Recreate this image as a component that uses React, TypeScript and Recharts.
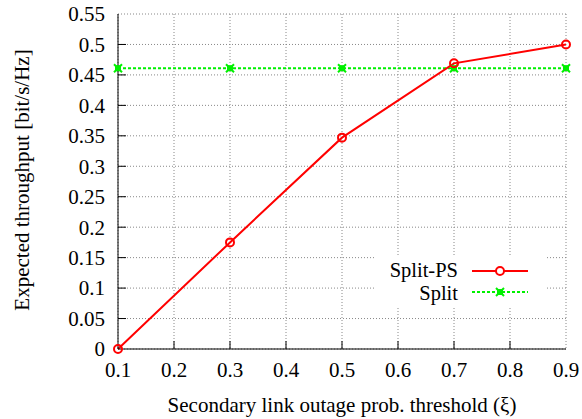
import React from 'react';
import { LineChart, Line, XAxis, YAxis, CartesianGrid } from 'recharts';

const xValues = [0.1, 0.3, 0.5, 0.7, 0.9];
const splitPS = [0, 0.175, 0.347, 0.469, 0.5];
const split = [0.461, 0.461, 0.461, 0.461, 0.461];
const xTicks = [0.1, 0.2, 0.3, 0.4, 0.5, 0.6, 0.7, 0.8, 0.9];
const yTicks = [0, 0.05, 0.1, 0.15, 0.2, 0.25, 0.3, 0.35, 0.4, 0.45, 0.5, 0.55];
const seriesNames = ['Split-PS', 'Split'];

const data = xValues.map((x, i) => ({ x, ps: splitPS[i], split: split[i] }));

const FONT = '"Liberation Serif", "Times New Roman", serif';
const FS = 21;
const RED = '#ff0000';
const GREEN = '#00f000';

const fmt = (v: number) => String(Number(v.toFixed(2)));

const renderLeftTick = (props: any) => {
  const { x, y, payload } = props;
  const ax = x + 13;
  const isEdge = payload.value === 0 || payload.value === 0.55;
  return (
    <g key={`l-${payload.value}`}>
      {!isEdge && <line x1={ax} x2={ax + 8} y1={y} y2={y} stroke="#000" strokeWidth={1} />}
      <text x={x} y={y} dy="0.35em" textAnchor="end" style={{ fontFamily: FONT, fontSize: FS }} fill="#000">
        {fmt(payload.value)}
      </text>
    </g>
  );
};

const renderRightTick = (props: any) => {
  const { x, y, payload } = props;
  const isEdge = payload.value === 0 || payload.value === 0.55;
  if (isEdge) return <g key={`r-${payload.value}`} />;
  return <line key={`r-${payload.value}`} x1={x} x2={x - 8} y1={y} y2={y} stroke="#000" strokeWidth={1} />;
};

const renderBottomTick = (props: any) => {
  const { x, y, payload } = props;
  const isEdge = payload.value === 0.1 || payload.value === 0.9;
  return (
    <g key={`b-${payload.value}`}>
      {!isEdge && <line x1={x} x2={x} y1={y} y2={y - 8} stroke="#000" strokeWidth={1} />}
      <text x={x} y={y + 28} textAnchor="middle" style={{ fontFamily: FONT, fontSize: FS }} fill="#000">
        {fmt(payload.value)}
      </text>
    </g>
  );
};

const renderTopTick = (props: any) => {
  const { x, y, payload } = props;
  const isEdge = payload.value === 0.1 || payload.value === 0.9;
  if (isEdge) return <g key={`t-${payload.value}`} />;
  return <line key={`t-${payload.value}`} x1={x} x2={x} y1={y} y2={y + 8} stroke="#000" strokeWidth={1} />;
};

const CircleDot = (props: any) => {
  const { cx, cy } = props;
  if (cx == null || cy == null) return <g />;
  return <circle key={`c-${cx}`} cx={cx} cy={cy} r={4} fill="none" stroke={RED} strokeWidth={2} />;
};

const StarDot = (props: any) => {
  const { cx, cy } = props;
  if (cx == null || cy == null) return <g />;
  return (
    <g key={`s-${cx}`}>
      <rect x={cx - 3} y={cy - 3} width={6} height={6} fill={GREEN} />
      <line x1={cx - 4} y1={cy - 4} x2={cx + 4} y2={cy + 4} stroke={GREEN} strokeWidth={2} />
      <line x1={cx - 4} y1={cy + 4} x2={cx + 4} y2={cy - 4} stroke={GREEN} strokeWidth={2} />
    </g>
  );
};

const LegendBox = () => (
  <svg width={170} height={50} style={{ position: 'absolute', left: 375, top: 257, display: 'block' }}>
    <rect x={0} y={0} width={170} height={50} fill="#fff" />
    <text x={83} y={13} dy="0.35em" textAnchor="end" style={{ fontFamily: FONT, fontSize: 20.5 }} fill="#000">{seriesNames[0]}</text>
    <line x1={97} x2={153} y1={14} y2={14} stroke={RED} strokeWidth={2} />
    <circle cx={125} cy={14} r={4} fill="#fff" stroke={RED} strokeWidth={2} />
    <text x={83} y={36} dy="0.35em" textAnchor="end" style={{ fontFamily: FONT, fontSize: 20.5 }} fill="#000">{seriesNames[1]}</text>
    <line x1={97} x2={153} y1={35} y2={35} stroke={GREEN} strokeWidth={2} strokeDasharray="3 2" />
    <rect x={122} y={32} width={6} height={6} fill={GREEN} />
    <line x1={121} y1={31} x2={129} y2={39} stroke={GREEN} strokeWidth={2} />
    <line x1={121} y1={39} x2={129} y2={31} stroke={GREEN} strokeWidth={2} />
  </svg>
);

export default function App() {
  return (
    <div style={{ position: 'absolute', left: 0, top: 0, width: 582, height: 419, background: '#fff' }}>
      <LineChart width={582} height={419} data={data} margin={{ top: 14, right: 16, bottom: 10, left: 0 }}>
        <CartesianGrid stroke="#888" strokeDasharray="1 2" strokeWidth={1} />
        <XAxis
          dataKey="x"
          type="number"
          domain={[0.1, 0.9]}
          ticks={xTicks}
          height={60}
          stroke="#000"
          tickSize={0}
          tickMargin={0}
          tickLine={false}
          tick={renderBottomTick}
          interval={0}
          label={{
            content: (p: any) => {
              const vb = p.viewBox;
              return (
                <text x={vb.x + vb.width / 2} y={412} textAnchor="middle" style={{ fontFamily: FONT, fontSize: FS }} fill="#000">
                  Secondary link outage prob. threshold (ξ)
                </text>
              );
            },
          }}
        />
        <XAxis
          xAxisId="top"
          dataKey="x"
          type="number"
          orientation="top"
          domain={[0.1, 0.9]}
          ticks={xTicks}
          height={0}
          stroke="#000"
          tickSize={0}
          tickLine={false}
          tick={renderTopTick}
          interval={0}
        />
        <YAxis
          type="number"
          domain={[0, 0.55]}
          ticks={yTicks}
          width={118}
          stroke="#000"
          tickSize={0}
          tickMargin={13}
          tickLine={false}
          tick={renderLeftTick}
          interval={0}
          label={{
            content: () => {
              const cx = 22;
              const cy = 180;
              return (
                <text x={cx} y={cy} transform={`rotate(-90 ${cx} ${cy})`} dy="0.35em" textAnchor="middle" style={{ fontFamily: FONT, fontSize: FS }} fill="#000">
                  Expected throughput [bit/s/Hz]
                </text>
              );
            },
          }}
        />
        <YAxis
          yAxisId="right"
          type="number"
          orientation="right"
          domain={[0, 0.55]}
          ticks={yTicks}
          width={0}
          stroke="#000"
          tickSize={0}
          tickLine={false}
          tick={renderRightTick}
          interval={0}
        />
        <Line
          dataKey="split"
          name={seriesNames[1]}
          stroke={GREEN}
          strokeWidth={2}
          strokeDasharray="3 2"
          dot={StarDot}
          isAnimationActive={false}
        />
        <Line
          dataKey="ps"
          name={seriesNames[0]}
          stroke={RED}
          strokeWidth={2}
          dot={CircleDot}
          isAnimationActive={false}
        />
      </LineChart>
      <LegendBox />
    </div>
  );
}
